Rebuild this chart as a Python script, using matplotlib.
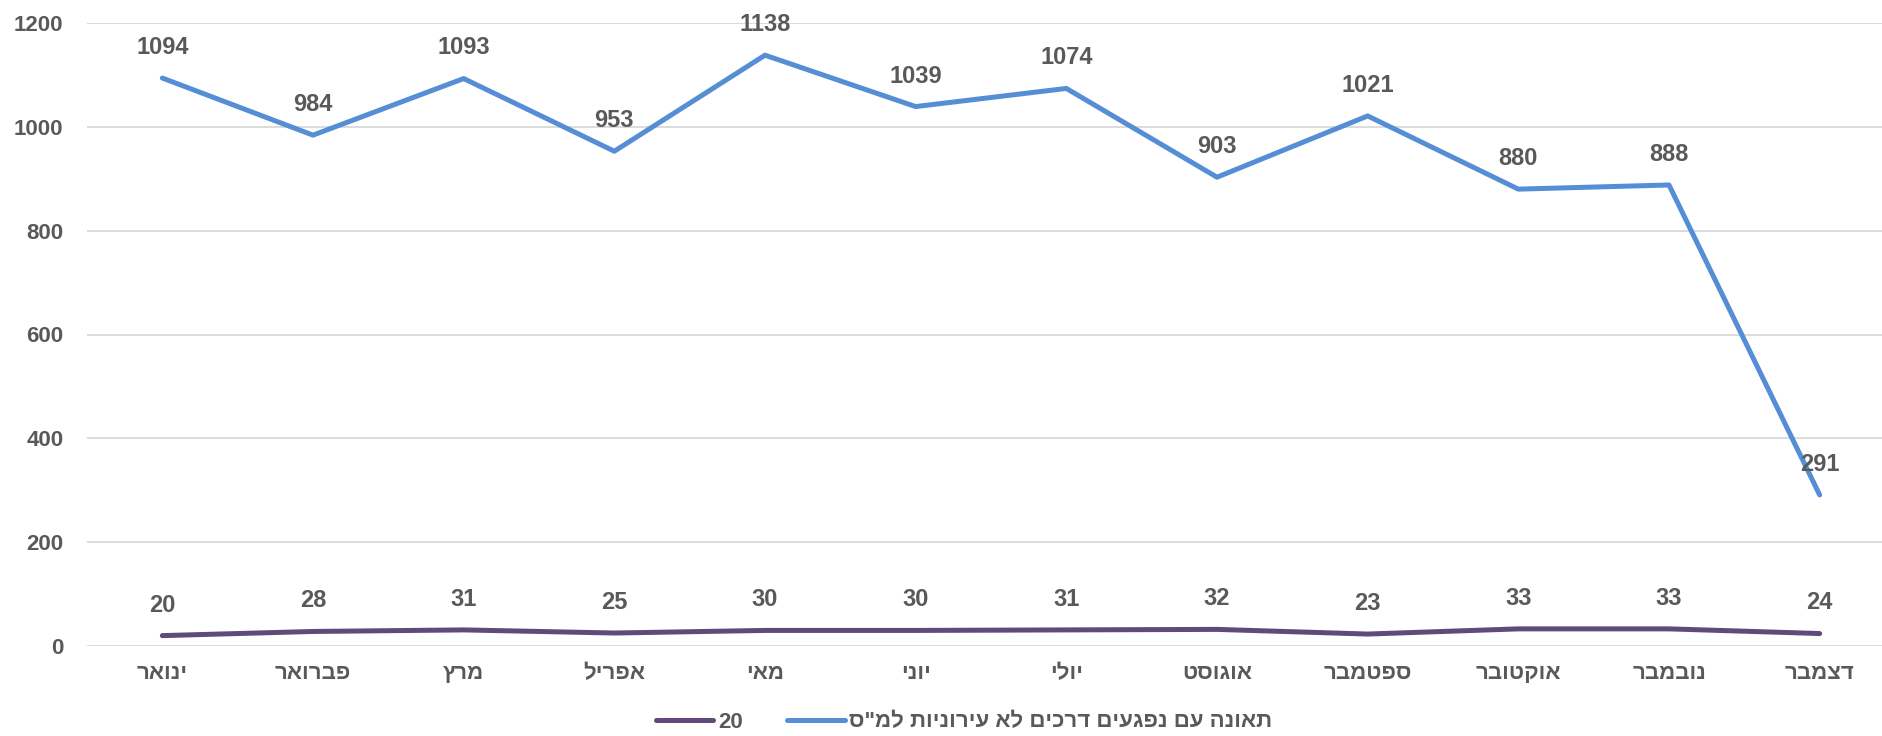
import matplotlib
matplotlib.use('Agg')
import matplotlib.pyplot as plt

plt.rcParams['font.family'] = ['Liberation Sans', 'DejaVu Sans']

# monthly counts
months = ['ינואר', 'פברואר', 'מרץ', 'אפריל', 'מאי', 'יוני',
          'יולי', 'אוגוסט', 'ספטמבר', 'אוקטובר', 'נובמבר', 'דצמבר']
accidents = [1094, 984, 1093, 953, 1138, 1039, 1074, 903, 1021, 880, 888, 291]
series_20 = [20, 28, 31, 25, 30, 30, 31, 32, 23, 33, 33, 24]
accidents_label = 'תאונה עם נפגעים דרכים לא עירוניות למ"ס'
series_20_label = '20'
yticks = [0, 200, 400, 600, 800, 1000, 1200]

TEXT_C = '#595959'
BLUE = '#558ED5'
PURPLE = '#604A7B'
FS = 16


def rtl(s):
    # matplotlib has no bidi support, flip hebrew strings for display
    return s[::-1] if any('\u0590' <= c <= '\u05ff' for c in s) else s


fig = plt.figure(figsize=(18.82, 7.36), dpi=100)
ax = fig.add_axes([87 / 1882, 1 - 646 / 736, 1808 / 1882, 623 / 736])

x = list(range(len(months)))
ax.plot(x, series_20, color=PURPLE, lw=3.6, solid_capstyle='round', label=series_20_label, zorder=3)
ax.plot(x, accidents, color=BLUE, lw=3.6, solid_capstyle='round', label=rtl(accidents_label), zorder=3)

for series in (accidents, series_20):
    for xi, v in zip(x, series):
        ax.annotate(str(v), (xi, v), xytext=(0, 22), textcoords='offset points',
                    ha='center', va='center', fontsize=FS + 1, fontweight='bold',
                    color=TEXT_C, zorder=4)

ax.set_xlim(-0.5, len(months) - 0.5)
ax.set_ylim(0, 1200)
ax.set_yticks(yticks)
ax.set_xticks(x)
ax.set_xticklabels([rtl(m) for m in months])
ax.grid(axis='y', color='#D9D9D9', lw=1.3)
ax.set_axisbelow(True)
for s in ax.spines.values():
    s.set_visible(False)
ax.tick_params(axis='both', length=0, labelsize=FS, labelcolor=TEXT_C)
ax.tick_params(axis='y', pad=17)
ax.tick_params(axis='x', pad=12)
for lbl in ax.get_xticklabels() + ax.get_yticklabels():
    lbl.set_fontweight('bold')

leg = fig.legend(loc='center', bbox_to_anchor=(964 / 1882, 1 - 722 / 736), ncol=2, frameon=False,
                 handlelength=2.6, handletextpad=0.2, columnspacing=2.0,
                 prop={'size': FS, 'weight': 'bold'})
for t in leg.get_texts():
    t.set_color(TEXT_C)

fig.savefig('out.png', dpi=100, facecolor='white')
